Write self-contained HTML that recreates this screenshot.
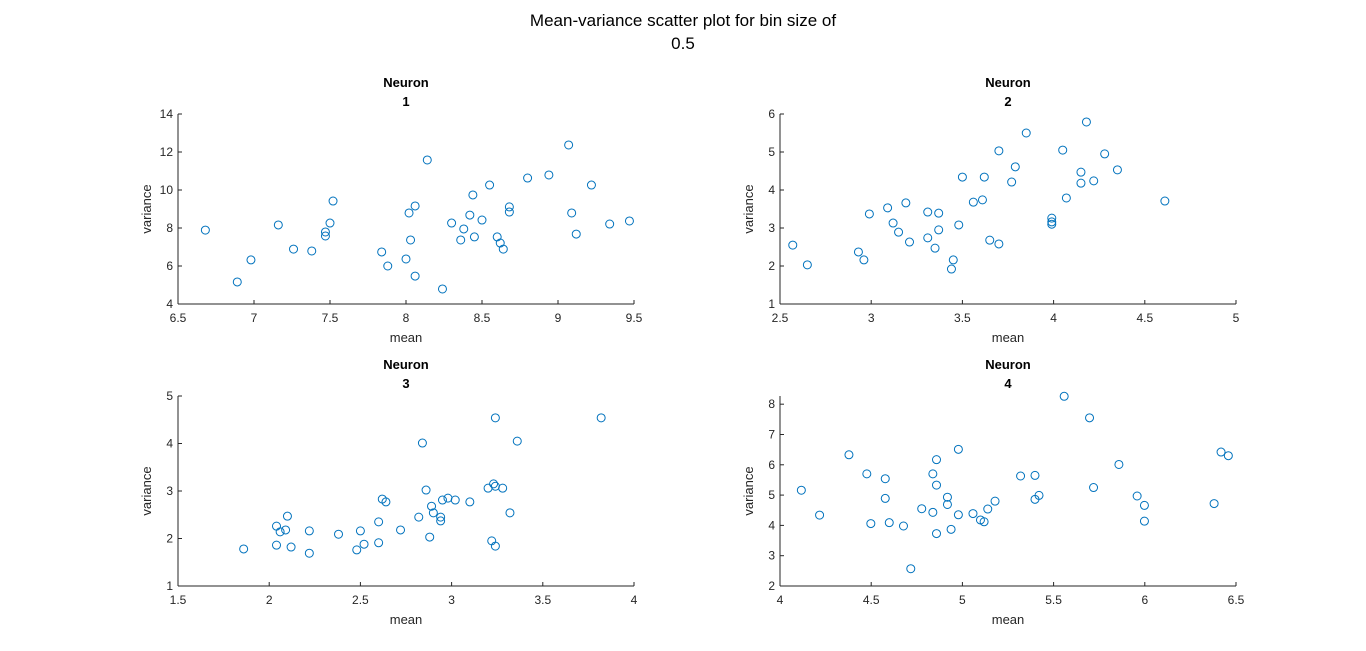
<!DOCTYPE html>
<html><head><meta charset="utf-8"><style>
body{margin:0;background:#fff;}
svg{display:block;font-family:"Liberation Sans",Arial,sans-serif;}
</style></head><body>
<svg id="chart" width="1366" height="651" xmlns="http://www.w3.org/2000/svg">
<rect width="1366" height="651" fill="#fff"/>
<text x="683" y="26" font-size="17" text-anchor="middle" fill="#000">Mean-variance scatter plot for bin size of</text>
<text x="683" y="49" font-size="17" text-anchor="middle" fill="#000">0.5</text>
</svg>
<script>
const n1x=[6.68,6.89,6.98,7.16,7.26,7.38,7.47,7.47,7.5,7.52,7.84,7.88,8.0,8.02,8.03,8.06,8.06,8.14,8.24,8.3,8.36,8.38,8.42,8.44,8.45,8.5,8.55,8.6,8.62,8.64,8.68,8.68,8.8,8.94,9.07,9.09,9.12,9.22,9.34,9.47];
const n1y=[7.89,5.16,6.32,8.16,6.89,6.79,7.58,7.79,8.26,9.42,6.74,6.0,6.37,8.79,7.37,9.16,5.47,11.58,4.79,8.26,7.37,7.95,8.68,9.74,7.53,8.42,10.26,7.53,7.21,6.89,9.11,8.84,10.63,10.79,12.37,8.79,7.68,10.26,8.21,8.37];
const n2x=[2.57,2.65,2.93,2.96,2.99,3.09,3.12,3.15,3.19,3.21,3.31,3.31,3.37,3.37,3.35,3.44,3.45,3.48,3.5,3.56,3.61,3.62,3.65,3.7,3.7,3.77,3.79,3.85,3.99,3.99,3.99,4.05,4.07,4.15,4.15,4.18,4.22,4.28,4.35,4.61];
const n2y=[2.55,2.03,2.37,2.16,3.37,3.53,3.13,2.89,3.66,2.63,3.42,2.74,2.95,3.39,2.47,1.92,2.16,3.08,4.34,3.68,3.74,4.34,2.68,2.58,5.03,4.21,4.61,5.5,3.26,3.16,3.1,5.05,3.79,4.18,4.47,5.79,4.24,4.95,4.53,3.71];
const n3x=[1.86,2.04,2.04,2.06,2.09,2.1,2.12,2.22,2.22,2.38,2.48,2.5,2.52,2.6,2.6,2.62,2.64,2.72,2.82,2.84,2.86,2.88,2.89,2.9,2.94,2.94,2.95,2.98,3.02,3.1,3.2,3.22,3.23,3.24,3.24,3.28,3.32,3.36,3.24,3.82];
const n3y=[1.78,1.86,2.26,2.14,2.18,2.47,1.82,1.69,2.16,2.09,1.76,2.16,1.88,1.91,2.35,2.83,2.77,2.18,2.45,4.01,3.02,2.03,2.68,2.54,2.45,2.37,2.81,2.85,2.81,2.77,3.06,1.95,3.15,1.84,3.1,3.06,2.54,4.05,4.54,4.54];
const n4x=[4.117,4.217,4.378,4.476,4.498,4.577,4.577,4.599,4.677,4.717,4.777,4.838,4.838,4.858,4.858,4.858,4.918,4.918,4.938,4.978,4.978,5.058,5.099,5.119,5.139,5.179,5.319,5.398,5.398,5.42,5.558,5.697,5.719,5.858,5.958,5.998,5.998,6.38,6.418,6.458];
const n4y=[5.16,4.34,6.33,5.70,4.06,5.54,4.89,4.09,3.98,2.57,4.55,5.70,4.43,6.17,5.33,3.73,4.93,4.69,3.87,6.51,4.35,4.39,4.18,4.12,4.54,4.80,5.63,5.65,4.86,4.99,8.26,7.55,5.25,6.01,4.97,4.66,4.14,4.72,6.42,6.30];
const xt1=[6.5,7,7.5,8,8.5,9,9.5], yt1=[4,6,8,10,12,14];
const xt2=[2.5,3,3.5,4,4.5,5], yt2=[1,2,3,4,5,6];
const xt3=[1.5,2,2.5,3,3.5,4], yt3=[1,2,3,4,5];
const xt4=[4,4.5,5,5.5,6,6.5], yt4=[2,3,4,5,6,7,8];
const panels=[
 {id:1,L:178,T:114,xd:[6.5,9.5],yd:[4,14],xs:n1x,ys:n1y,xt:xt1,yt:yt1},
 {id:2,L:780,T:114,xd:[2.5,5],yd:[1,6],xs:n2x,ys:n2y,xt:xt2,yt:yt2},
 {id:3,L:178,T:396,xd:[1.5,4],yd:[1,5],xs:n3x,ys:n3y,xt:xt3,yt:yt3},
 {id:4,L:780,T:396,xd:[4,6.5],yd:[2,8.27],xs:n4x,ys:n4y,xt:xt4,yt:yt4}];
const W=456,H=190,NS="http://www.w3.org/2000/svg";
const svg=document.getElementById('chart');
function mk(tag,attrs,parent,txt){const e=document.createElementNS(NS,tag);for(const k in attrs)e.setAttribute(k,attrs[k]);if(txt!==undefined)e.textContent=txt;parent.appendChild(e);return e;}
panels.forEach(p=>{
 const g=mk('g',{},svg);
 
 
 const X=v=>p.L+(v-p.xd[0])/(p.xd[1]-p.xd[0])*W;
 const Y=v=>p.T+H-(v-p.yd[0])/(p.yd[1]-p.yd[0])*H;
 const ax='#262626';
 const t1=mk('text',{x:p.L+W/2,y:p.T-27,'font-size':13,'font-weight':'bold','text-anchor':'middle'},g,'Neuron');
 
 
 const t2=mk('text',{x:p.L+W/2,y:p.T-8,'font-size':13,'font-weight':'bold','text-anchor':'middle'},g,String(p.id));
 
 
 const xa=mk('line',{x1:p.L,y1:p.T+H,x2:p.L+W,y2:p.T+H,stroke:ax,'stroke-width':1},g);
 
 
 const ya=mk('line',{x1:p.L,y1:p.T,x2:p.L,y2:p.T+H,stroke:ax,'stroke-width':1},g);
 
 
 p.xt.forEach(v=>{const x=X(v);
  mk('line',{x1:x,y1:p.T+H,x2:x,y2:p.T+H-4,stroke:ax},g);
  const l=mk('text',{x:x,y:p.T+H+18,'font-size':12,'text-anchor':'middle',fill:ax},g,String(v));
  
  });
 p.yt.forEach(v=>{const y=Y(v);
  mk('line',{x1:p.L,y1:y,x2:p.L+4,y2:y,stroke:ax},g);
  const l=mk('text',{x:p.L-5,y:y+4,'font-size':12,'text-anchor':'end',fill:ax},g,String(v));
  
  });
 const xl=mk('text',{x:p.L+W/2,y:p.T+H+38,'font-size':13,'text-anchor':'middle',fill:ax},g,'mean');
 
 
 const yl=mk('text',{x:0,y:0,'font-size':13,'text-anchor':'middle',fill:ax,transform:`translate(${p.L-27},${p.T+H/2}) rotate(-90)`},g,'variance');
 
 
 p.xs.forEach((v,i)=>{
  const c=mk('circle',{cx:X(v),cy:Y(p.ys[i]),r:4,fill:'none',stroke:'#0072BD','stroke-width':1},g);
  
  });
});
</script>
</body></html>
